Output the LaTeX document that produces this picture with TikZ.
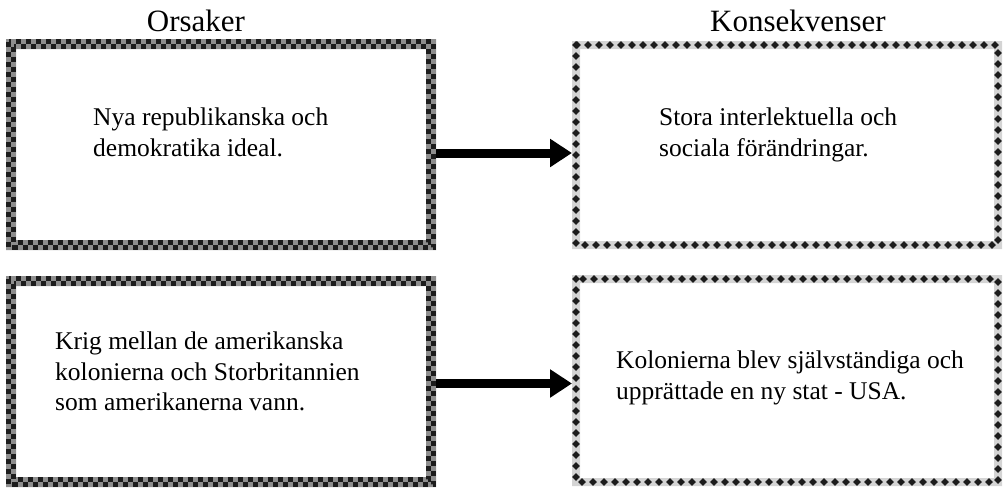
\documentclass[tikz,border=0pt]{standalone}
\usepackage{fontspec}
\setmainfont{Liberation Serif}
\usetikzlibrary{arrows.meta,calc,decorations.markings}

\definecolor{checkdark}{HTML}{1C1C1C}
\definecolor{checkgray}{HTML}{8E8E8E}
\definecolor{bandgray}{HTML}{D4D4D4}

\tikzset{
  box/.style={minimum width=430pt, minimum height=211pt, inner sep=0pt, outer sep=0pt},
  heading/.style={font=\fontsize{31}{36}\selectfont, inner sep=0pt, anchor=base},
  boxtext/.style={font=\fontsize{25.5}{30.5}\selectfont, align=left, inner sep=0pt, anchor=north west},
  checkrow/.style={checkdark, line width=5pt, dash pattern=on 5pt off 5pt},
  flow/.style={line width=9pt, -{Triangle[length=22pt,width=27pt]}},
  diamonds/.style={decorate, decoration={markings,
      mark=between positions 0 and 1 step 11pt with
      {\fill[checkdark] (-4,0) -- (0,-3.8) -- (4,0) -- (0,3.8) -- cycle;}}}
}

% checkerboard frame: grey band with two rows of offset black squares
\newcommand\checkframe[1]{%
  \fill[checkgray, even odd rule] (#1.north west) rectangle (#1.south east)
    ($(#1.north west)+(10,10)$) rectangle ($(#1.south east)+(-10,-10)$);
  \draw[checkrow] ($(#1.north west)+(2.5,2.5)$) rectangle ($(#1.south east)+(-2.5,-2.5)$);
  \draw[checkrow] ($(#1.north west)+(7.5,7.5)$) rectangle ($(#1.south east)+(-7.5,-7.5)$);
}
% light band with a row of black diamonds
\newcommand\diamondframe[1]{%
  \fill[bandgray, even odd rule] (#1.north west) rectangle (#1.south east)
    ($(#1.north west)+(8,8)$) rectangle ($(#1.south east)+(-8,-8)$);
  \path[diamonds] ($(#1.north west)+(4,4)$) rectangle ($(#1.south east)+(-4,-4)$);
}

\begin{document}
\begin{tikzpicture}[x=1pt, y=-1pt]
  \useasboundingbox (0,0) rectangle (1006,488);

  % column headings
  \node[heading] (hcause) at (196,31) {Orsaker};
  \node[heading] (hcons)  at (798,31) {Konsekvenser};

  % boxes
  \node[box] (c1) at (221,144.5) {};
  \node[box] (c2) at (221,381.5) {};
  \node[box, minimum height=208pt] (k1) at (787,145) {};
  \node[box, minimum height=211pt] (k2) at (787,380.5) {};

  \checkframe{c1}
  \checkframe{c2}
  \diamondframe{k1}
  \diamondframe{k2}

  % box texts
  \node[boxtext] (t1) at (93,108)  {Nya republikanska och\\demokratika ideal.};
  \node[boxtext] (t2) at (55,332)  {Krig mellan de amerikanska\\kolonierna och Storbritannien\\som amerikanerna vann.};
  \node[boxtext] (t3) at (659,108) {Stora interlektuella och\\sociala förändringar.};
  \node[boxtext] (t4) at (616,351) {Kolonierna blev självständiga och\\upprättade en ny stat - USA.};

  % cause -> consequence arrows
  \draw[flow] ($(c1.east)+(0,8.5)$) -- ($(k1.west)+(0,8)$);
  \draw[flow] ($(c2.east)+(0,2)$) -- ($(k2.west)+(0,3)$);
\end{tikzpicture}
\end{document}
